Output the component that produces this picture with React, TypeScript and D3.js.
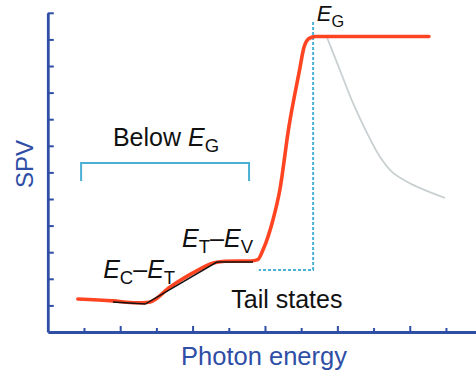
import * as d3 from "d3";
import { useEffect, useRef } from "react";

type Pt = [number, number];

// x in tick units of photon energy, y in tick units of SPV
const spvCurve: Pt[] = [
  [0.83, 1.24], [1.8, 1.17], [2.45, 1.1], [2.8, 1.12], [3.38, 1.69], [4.01, 2.22],
  [4.6, 2.6], [4.9, 2.66], [5.6, 2.67], [5.8, 2.72], [5.95, 3.1], [6.22, 4.21],
  [6.41, 5.34], [6.66, 7.71], [6.94, 9.74], [7.08, 10.71], [7.22, 11.04],
  [7.4, 11.11], [10.53, 11.11],
];
const fitLine: Pt[] = [[1.8, 1.13], [2.69, 1.05], [4.67, 2.63], [5.67, 2.63]];
const greyCurve: Pt[] = [
  [7.71, 11.09], [8.07, 9.85], [8.43, 8.61], [8.82, 7.48], [9.18, 6.58],
  [9.54, 5.98], [10.09, 5.53], [10.97, 5.04],
];
const xTicks = [1, 2, 3, 4, 5, 6, 7, 8, 9, 10, 11];
const yTicks = [1, 2, 3, 4, 5, 6, 7, 8, 9, 10, 11, 12];
const egLine = { x: 7.33, top: 11.65, bottom: 2.33, tailStart: 5.83 };
const bracket = { x0: 0.92, x1: 5.56, y: 6.35, yEnd: 5.68 };

type Label = { x: number; y: number; size: number; parts: [string, string, boolean][] };
// parts: [text, kind (n|s), italic]
const labels: Label[] = [
  { x: 1.8, y: 6.99, size: 25, parts: [["Below ", "n", false], ["E", "n", true], ["G", "s", false]] },
  { x: 1.53, y: 2.03, size: 25, parts: [["E", "n", true], ["C", "s", false], ["–", "n", false], ["E", "n", true], ["T", "s", false]] },
  { x: 3.71, y: 3.2, size: 25, parts: [["E", "n", true], ["T", "s", false], ["–", "n", false], ["E", "n", true], ["V", "s", false]] },
  { x: 5.07, y: 0.9, size: 25, parts: [["Tail states", "n", false]] },
  { x: 7.43, y: 11.7, size: 22, parts: [["E", "n", true], ["G", "s", false]] },
];

const blue = "#2f4ea6";
const red = "#ff4422";
const cyan = "#4bb0d6";

const App = () => {
  const ref = useRef<SVGSVGElement | null>(null);

  useEffect(() => {
    if (!ref.current) return;
    const svg = d3.select(ref.current);
    svg.selectAll("*").remove();
    const width = 476;
    const height = 374;
    svg.attr("width", width).attr("height", height);

    const x = d3.scaleLinear().domain([0, 11.83]).range([47.8, 476]);
    const y = d3.scaleLinear().domain([0, 12]).range([332, 12.8]);

    const font = "'Liberation Sans', Arial, sans-serif";

    // y axis, ticks pointing inward
    const yAxis = svg
      .append("g")
      .attr("transform", `translate(${x(0)},0)`)
      .call(d3.axisLeft(y).tickValues(yTicks).tickSize(-6).tickSizeOuter(0).tickFormat(() => ""));
    yAxis.select(".domain").attr("stroke", blue).attr("stroke-width", 2.8);
    yAxis.selectAll(".tick line").attr("stroke", blue).attr("stroke-width", 2);

    const xAxis = svg
      .append("g")
      .attr("transform", `translate(0,${y(0)})`)
      .call(d3.axisBottom(x).tickValues(xTicks).tickSize(-6).tickSizeOuter(0).tickFormat(() => ""));
    xAxis.select(".domain").attr("stroke", blue).attr("stroke-width", 2.8);
    xAxis
      .selectAll(".tick line")
      .attr("stroke", blue)
      .attr("stroke-width", 2)
      .attr("y2", (_d, i) => (i % 2 === 1 ? -6 : -4));

    // axis titles
    svg
      .append("text")
      .attr("transform", `translate(33,164) rotate(-90)`)
      .attr("text-anchor", "middle")
      .attr("font-family", font)
      .attr("font-size", 24)
      .attr("fill", blue)
      .text("SPV");
    svg
      .append("text")
      .attr("x", 264)
      .attr("y", 365)
      .attr("text-anchor", "middle")
      .attr("font-family", font)
      .attr("font-size", 25.5)
      .attr("fill", blue)
      .text("Photon energy");

    const line = d3
      .line<Pt>()
      .x((d) => x(d[0]))
      .y((d) => y(d[1]));

    // grey decay
    svg
      .append("path")
      .datum(greyCurve)
      .attr("fill", "none")
      .attr("stroke", "#c9d0d2")
      .attr("stroke-width", 1.8)
      .attr("d", line.curve(d3.curveCatmullRom));

    // E_G dashed marker
    svg
      .append("path")
      .attr(
        "d",
        `M${x(egLine.x)},${y(egLine.top)}V${y(egLine.bottom)}H${x(egLine.tailStart)}`
      )
      .attr("fill", "none")
      .attr("stroke", cyan)
      .attr("stroke-width", 2)
      .attr("stroke-dasharray", "3,2");

    // bracket
    svg
      .append("path")
      .attr(
        "d",
        `M${x(bracket.x0)},${y(bracket.yEnd)}V${y(bracket.y)}H${x(bracket.x1)}V${y(bracket.yEnd)}`
      )
      .attr("fill", "none")
      .attr("stroke", cyan)
      .attr("stroke-width", 2);

    // SPV curve
    svg
      .append("path")
      .datum(spvCurve)
      .attr("fill", "none")
      .attr("stroke", red)
      .attr("stroke-width", 3.6)
      .attr("stroke-linecap", "round")
      .attr("stroke-linejoin", "round")
      .attr("d", line.curve(d3.curveMonotoneX));

    // linear fit segments
    svg
      .append("path")
      .datum(fitLine)
      .attr("fill", "none")
      .attr("stroke", "#111")
      .attr("stroke-width", 1.5)
      .attr("d", line.curve(d3.curveLinear));

    // annotations
    labels.forEach((l) => {
      const t = svg
        .append("text")
        .attr("x", x(l.x))
        .attr("y", y(l.y))
        .attr("font-family", font)
        .attr("font-size", l.size)
        .attr("fill", "#111");
      let sub = false;
      l.parts.forEach(([txt, kind, it]) => {
        const s = t.append("tspan").text(txt);
        if (it) s.attr("font-style", "italic");
        if (kind === "s") {
          s.attr("font-size", l.size * 0.74).attr("dy", 6);
          sub = true;
        } else if (sub) {
          s.attr("dy", -6);
          sub = false;
        }
      });
    });
  }, []);

  return <svg ref={ref} style={{ position: "absolute", left: 0, top: 0 }}></svg>;
};

export default App;
